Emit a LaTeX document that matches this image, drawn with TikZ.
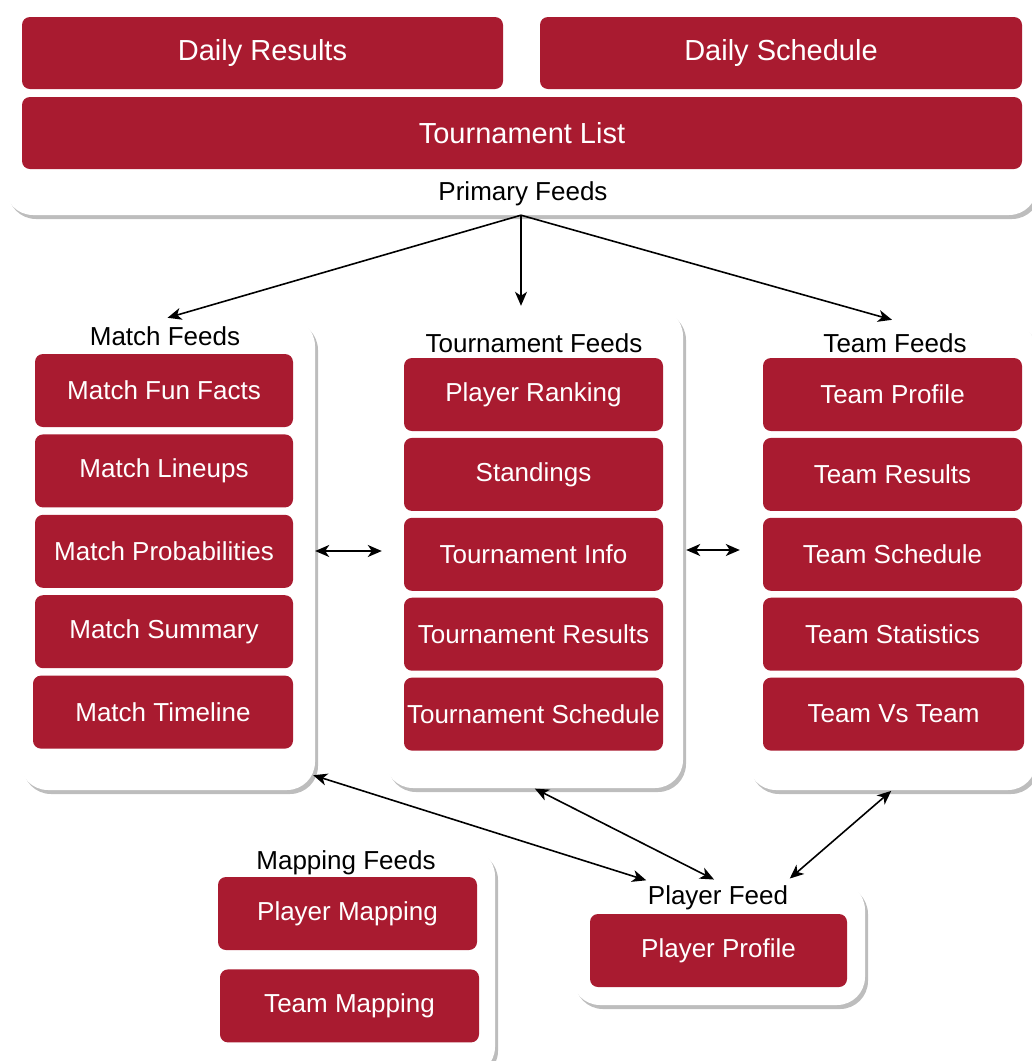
\documentclass[tikz,border=0pt]{standalone}
\usepackage{fontspec}
\setmainfont{Liberation Sans}
\usetikzlibrary{arrows.meta,positioning,calc,shadows}
\definecolor{feedred}{HTML}{A91B30}
\definecolor{feedshadow}{HTML}{BDBDBD}

\begin{document}
\begin{tikzpicture}[x=1pt,y=-1pt,
  node distance=7pt,
  feed/.style={rounded corners=8pt,fill=feedred,text=white,minimum width=259pt,minimum height=73pt,inner sep=0pt,font=\fontsize{26}{30}\selectfont},
  topfeed/.style={feed,minimum height=72pt,font=\fontsize{29}{34}\selectfont},
  feedgroup/.style={rounded corners=28pt,fill=white,inner sep=0pt,drop shadow={shadow xshift=3pt,shadow yshift=-4pt,fill=feedshadow,opacity=1}},
  grouplabel/.style={font=\fontsize{26}{30}\selectfont,text=black,inner sep=0pt},
  link/.style={line width=1.6pt},
  >={Stealth[length=14pt,width=12pt,inset=4pt]}]

  \useasboundingbox (0,0) rectangle (1032,1061);

  % white group panels
  \node[feedgroup,minimum width=1032pt,minimum height=245pt] (prim) at (521,92.5) {};
  \node[feedgroup,minimum width=295pt,minimum height=472pt] (match) at (167.5,554) {};
  \node[feedgroup,minimum width=298pt,minimum height=480pt] (tour) at (534,548) {};
  \node[feedgroup,minimum width=288pt,minimum height=468pt] (team) at (892,556) {};
  \node[feedgroup,minimum width=285pt,minimum height=227pt] (mapf) at (352.5,961.5) {};
  \node[feedgroup,minimum width=293pt,minimum height=123pt] (plyf) at (718.5,943.5) {};

  % primary feeds
  \node[topfeed,minimum width=481pt] (dres) at (262.5,53) {Daily Results};
  \node[topfeed,minimum width=482pt] (dsch) at (781,53) {Daily Schedule};
  \node[topfeed,minimum width=1000pt] (tlist) at (522,133) {Tournament List};
  \node[grouplabel] (primlbl) at (523,194) {Primary Feeds};

  % match feeds
  \node[grouplabel] (matchlbl) at (165,336) {Match Feeds};
  \node[feed,minimum width=258pt] (mfun) at (164,390.5) {Match Fun Facts};
  \node[feed,minimum width=258pt,below=of mfun] (mline) {Match Lineups};
  \node[feed,minimum width=258pt,below=of mline] (mprob) {Match Probabilities};
  \node[feed,minimum width=258pt,below=of mprob] (msum) {Match Summary};
  \node[feed,minimum width=260pt,below=of msum,xshift=-1pt] (mtime) {Match Timeline};

  % tournament feeds
  \node[grouplabel] (tourlbl) at (534,343) {Tournament Feeds};
  \node[feed] (prank) at (533.5,394.5) {Player Ranking};
  \node[feed,below=6.5pt of prank] (stand) {Standings};
  \node[feed,below=6.5pt of stand] (tinfo) {Tournament Info};
  \node[feed,below=6.5pt of tinfo] (tres) {Tournament Results};
  \node[feed,below=6.5pt of tres] (tsch) {Tournament Schedule};

  % team feeds
  \node[grouplabel] (teamlbl) at (895,343) {Team Feeds};
  \node[feed] (tprof) at (892.5,394.5) {Team Profile};
  \node[feed,below=6.5pt of tprof] (tmres) {Team Results};
  \node[feed,below=6.5pt of tmres] (tmsch) {Team Schedule};
  \node[feed,below=6.5pt of tmsch] (tmstat) {Team Statistics};
  \node[feed,minimum width=261pt,below=6.5pt of tmstat,xshift=1pt] (tvst) {Team Vs Team};

  % mapping and player feeds
  \node[grouplabel] (maplbl) at (346,863) {Mapping Feeds};
  \node[feed] (pmap) at (347.5,913.5) {Player Mapping};
  \node[feed,below=19pt of pmap,xshift=2pt] (tmap) {Team Mapping};
  \node[grouplabel] (plylbl) at (718,898) {Player Feed};
  \node[feed,minimum width=257pt] (pprof) at (718.5,950.5) {Player Profile};

  \draw[->,link] (prim.south) -- (match.north);
  \draw[->,link] (prim.south) -- ([yshift=2pt]prim.south |- tour.north);
  \draw[->,link] (prim.south) -- ([yshift=2pt]team.north);

  \draw[<->,link] (match.east |- 0,551) -- ([xshift=-3pt]tour.west |- 0,551);
  \draw[<->,link,shorten <=3pt,shorten >=8pt] (tour.east |- 0,550) -- (team.west |- 0,550);

  \draw[<->,link,shorten >=5pt] ([xshift=-2pt,yshift=15pt]match.south east) -- ($(plyf.north west)!.27!(plyf.north east)$);
  \draw[<->,link,shorten <=1pt,shorten >=5pt] (tour.south) -- (plyf.north);
  \draw[<->,link,shorten <=1pt,shorten >=5pt] (team.south) -- ($(plyf.north west)!.73!(plyf.north east)$);

\end{tikzpicture}
\end{document}
